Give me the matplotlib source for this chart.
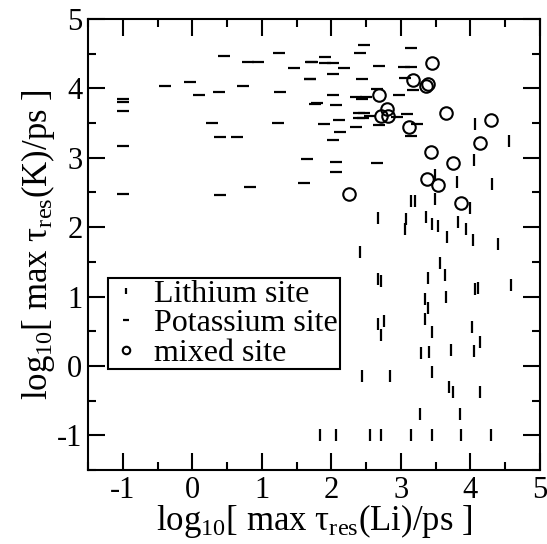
import matplotlib
matplotlib.use("Agg")
import matplotlib.pyplot as plt
from matplotlib.ticker import MultipleLocator

plt.rcParams['font.family'] = ['Liberation Serif', 'DejaVu Serif']
plt.rcParams['mathtext.fontset'] = 'custom'
plt.rcParams['mathtext.rm'] = 'Liberation Serif'
plt.rcParams['mathtext.it'] = 'Liberation Serif:italic'
plt.rcParams['axes.unicode_minus'] = False

# Lithium site (vertical dashes)
li_x = [4.07, 4.55, 4.05, 3.49, 3.80, 4.31, 3.15, 3.20, 3.49, 4.00,
        2.67, 3.07, 3.06, 3.36, 3.44, 3.54, 3.82, 3.94, 3.66, 4.04, 4.40,
        2.41, 3.56, 3.63, 2.67, 2.72, 3.39, 4.06, 4.11, 4.59,
        3.34, 3.65, 3.39, 2.67, 2.75, 2.72, 3.34, 3.44, 4.02, 4.13,
        3.29, 3.41, 3.72, 4.05, 2.44, 2.84, 3.44, 3.69, 3.75, 4.13,
        3.27, 3.85, 1.83, 2.06, 2.55, 2.72, 3.15, 3.45, 3.86, 4.30]
li_y = [3.48, 3.24, 2.97, 2.75, 2.65, 2.62, 2.38, 2.38, 2.40, 2.28,
        2.13, 2.12, 1.97, 2.15, 2.04, 2.02, 2.08, 1.98, 1.86, 1.81, 1.76,
        1.64, 1.49, 1.31, 1.25, 1.23, 1.27, 1.11, 1.13, 1.16,
        0.97, 1.00, 0.84, 0.60, 0.65, 0.45, 0.67, 0.49, 0.56, 0.35,
        0.18, 0.20, 0.23, 0.21, -0.15, -0.15, -0.09, -0.30, -0.38, -0.38,
        -0.69, -0.69, -1.0, -1.0, -1.0, -1.0, -1.0, -1.0, -1.0, -1.0]

# Potassium site (horizontal dashes)
k_x = [-0.99, -0.99, -0.99, -0.99, -0.99, -0.39, -0.04, 0.09, 0.39, 0.45,
       0.28, 0.40, 0.64, 0.40, 0.73, 0.83, 0.80, 0.95, 1.24, 1.26,
       1.23, 1.46, 1.70, 1.69, 1.65, 1.60, 1.76,
       2.47, 2.41, 3.15, 1.72, 1.91, 1.91, 2.03, 2.18, 2.68, 3.05, 3.15,
       1.69, 2.03, 2.44, 3.06, 3.18, 2.97, 2.66, 2.03, 2.36, 2.44, 2.50,
       1.79, 2.06, 2.40, 2.47, 2.40, 2.45, 2.56, 2.94, 3.09, 2.11, 1.89,
       2.35, 2.68, 3.23, 2.13, 3.14, 2.03, 2.06, 2.65, 2.06]
k_y = [3.84, 3.80, 3.67, 3.17, 2.48, 4.04, 4.09, 3.91, 3.95, 4.46,
       3.50, 3.30, 3.30, 2.46, 4.03, 2.58, 4.38, 4.38, 4.51, 3.95,
       3.50, 4.30, 4.38, 4.13, 2.98, 2.64, 3.78,
       4.62, 4.51, 4.58, 4.38, 4.45, 4.36, 4.37, 4.30, 4.32, 4.31, 4.31,
       4.14, 4.21, 4.14, 4.15, 3.97, 3.91, 3.99, 3.91, 3.88, 3.85, 3.87,
       3.79, 3.76, 3.64, 3.65, 3.58, 3.58, 3.60, 3.59, 3.63, 3.54, 3.48,
       3.45, 3.47, 3.48, 3.37, 3.31, 3.26, 2.94, 2.92, 2.79]

# mixed site (circles)
mix_x = [3.44, 3.18, 3.36, 3.39, 2.69, 2.80, 2.71, 2.82, 3.65, 4.29,
         3.11, 4.13, 3.43, 3.75, 3.37, 3.54, 2.26, 3.87]
mix_y = [4.37, 4.12, 4.04, 4.06, 3.91, 3.71, 3.60, 3.60, 3.65, 3.54,
         3.44, 3.22, 3.08, 2.93, 2.69, 2.61, 2.48, 2.35]

fig = plt.figure(figsize=(5.47, 5.44), dpi=100)
ax = fig.add_axes([88/547, 1 - 470/544, 452/547, 451/544])

ax.plot(li_x, li_y, ls='none', marker='|', ms=8, mew=1.6, color='black',
        label='Lithium site')
ax.plot(k_x, k_y, ls='none', marker='_', ms=8, mew=1.6, color='black',
        label='Potassium site')
ax.plot(mix_x, mix_y, ls='none', marker='o', ms=9, mew=1.5, mfc='none',
        color='black', label='mixed site')

ax.set_xlim(-1.5, 5)
ax.set_ylim(-1.5, 5)
ax.xaxis.set_major_locator(MultipleLocator(1))
ax.xaxis.set_minor_locator(MultipleLocator(0.5))
ax.yaxis.set_major_locator(MultipleLocator(1))
ax.yaxis.set_minor_locator(MultipleLocator(0.5))
ax.tick_params(which='both', direction='in', top=True, right=True,
               labelsize=22, width=1.5)
ax.tick_params(axis='x', pad=4)
ax.tick_params(axis='y', pad=4)
ax.tick_params(which='major', length=12)
ax.tick_params(which='minor', length=6)
for s in ax.spines.values():
    s.set_linewidth(1.5)

ax.set_xlabel(r'log$_{\rm 10}$[ max τ$_{\rm res}$(Li)/ps ]', fontsize=25, labelpad=-2)
ax.set_ylabel(r'log$_{\rm 10}$[ max τ$_{\rm res}$(K)/ps ]', fontsize=25, labelpad=0)

leg = ax.legend(loc='upper left', bbox_to_anchor=(108/547, 1 - 278/544),
                bbox_transform=fig.transFigure, borderaxespad=0,
                fontsize=23, markerscale=0.6, labelspacing=0.0,
                handlelength=1.0, handletextpad=0.4, borderpad=0.05,
                fancybox=False, framealpha=1, edgecolor='black')
leg.get_frame().set_linewidth(1.5)

fig.savefig('out.png', dpi=100)
